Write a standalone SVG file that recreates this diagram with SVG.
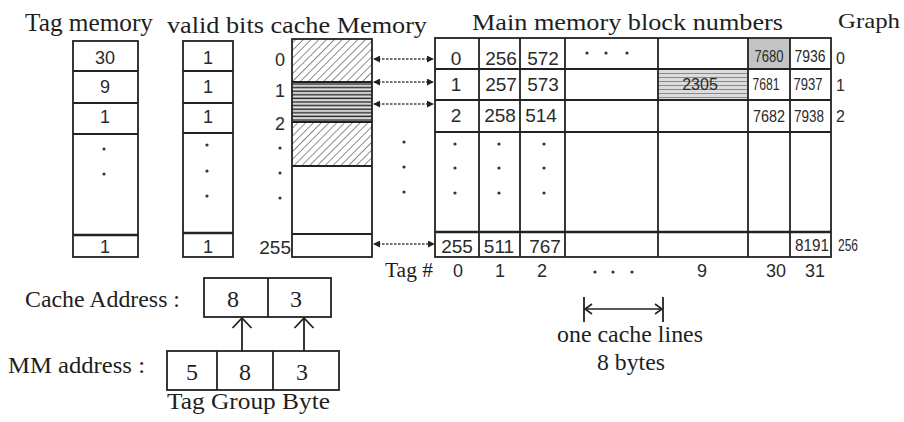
<svg xmlns="http://www.w3.org/2000/svg" width="904" height="422" viewBox="0 0 904 422">
<style>
.box{fill:none;stroke:#222;stroke-width:1.8}
.ln{stroke:#222;stroke-width:1.8}
.thick{stroke:#222;stroke-width:2.6}
.serif{font-family:"Liberation Serif","Times New Roman",serif;fill:#1e1e1e}
.sans{font-family:"Liberation Sans",Arial,sans-serif;fill:#2a2a2a}
.hd{font-size:24px}
.cell{font-size:19px;text-anchor:middle}
.lt{font-size:18px;text-anchor:middle}
.nar{font-size:16px;text-anchor:middle}
.rl{font-size:16px}
.dot{fill:#333}
.conn{stroke:#444;stroke-width:1.3;stroke-dasharray:2.5 1.5;fill:none;marker-start:url(#tri);marker-end:url(#tri)}
.arr{stroke:#222;stroke-width:1.8;fill:none}
</style>
<defs>
<pattern id="hatch" patternUnits="userSpaceOnUse" width="5.5" height="5.5" patternTransform="rotate(45)">
<line x1="0" y1="0" x2="0" y2="5.5" stroke="#333" stroke-width="1.1"/>
</pattern>
<pattern id="hlines" patternUnits="userSpaceOnUse" width="6" height="3.6">
<rect width="6" height="3.6" fill="#e4e4e4"/>
<line x1="0" y1="1.2" x2="6" y2="1.2" stroke="#2a2a2a" stroke-width="1.5"/>
</pattern>
<pattern id="glines" patternUnits="userSpaceOnUse" width="6" height="4">
<rect width="6" height="4" fill="#dcdcdc"/>
<line x1="0" y1="1.5" x2="6" y2="1.5" stroke="#8a8a8a" stroke-width="1"/>
</pattern>
<marker id="tri" viewBox="0 0 8 8" refX="7" refY="4" markerWidth="7" markerHeight="7" markerUnits="userSpaceOnUse" orient="auto-start-reverse">
<path d="M0,0 L8,4 L0,8 z" fill="#222"/>
</marker>
<marker id="chev" viewBox="0 0 11 20" refX="10" refY="10" markerWidth="11" markerHeight="20" markerUnits="userSpaceOnUse" orient="auto" overflow="visible">
<path d="M0,0.5 L10,10 L0,19.5" fill="none" stroke="#222" stroke-width="1.8"/>
</marker>
<marker id="chevs" viewBox="0 0 8 12" refX="7" refY="6" markerWidth="8" markerHeight="12" markerUnits="userSpaceOnUse" orient="auto-start-reverse" overflow="visible">
<path d="M0,1 L7,6 L0,11" fill="none" stroke="#222" stroke-width="1.6"/>
</marker>
</defs>
<rect width="904" height="422" fill="#ffffff"/>

<g id="headings">
<text class="serif" x="25" y="31" font-size="25" textLength="128" lengthAdjust="spacingAndGlyphs">Tag memory</text>
<text class="serif hd" x="167" y="33" textLength="260" lengthAdjust="spacingAndGlyphs">valid bits cache Memory</text>
<text class="serif hd" x="472" y="30" textLength="311" lengthAdjust="spacingAndGlyphs">Main memory block numbers</text>
<text class="serif" x="838" y="28" font-size="22" textLength="62" lengthAdjust="spacingAndGlyphs">Graph</text>
</g>

<g id="tag-memory">
<rect class="box" x="73" y="41" width="65" height="216"/>
<line class="ln" x1="73" y1="71" x2="138" y2="71"/>
<line class="ln" x1="73" y1="103" x2="138" y2="103"/>
<line class="ln" x1="73" y1="134" x2="138" y2="134"/>
<line class="thick" x1="73" y1="235" x2="138" y2="235"/>
<text class="sans lt" x="105" y="64">30</text>
<text class="sans lt" x="105" y="93">9</text>
<text class="sans lt" x="105" y="123">1</text>
<circle class="dot" cx="104" cy="149" r="1.6"/>
<circle class="dot" cx="104" cy="174" r="1.6"/>
<text class="sans lt" x="105" y="253">1</text>
</g>

<g id="valid-bits">
<rect class="box" x="183" y="41" width="50" height="216"/>
<line class="ln" x1="183" y1="71" x2="233" y2="71"/>
<line class="ln" x1="183" y1="103" x2="233" y2="103"/>
<line class="ln" x1="183" y1="133" x2="233" y2="133"/>
<line class="thick" x1="183" y1="233" x2="233" y2="233"/>
<text class="sans lt" x="208" y="64">1</text>
<text class="sans lt" x="208" y="93">1</text>
<text class="sans lt" x="208" y="123">1</text>
<circle class="dot" cx="207" cy="145" r="1.6"/>
<circle class="dot" cx="207" cy="171" r="1.6"/>
<circle class="dot" cx="207" cy="196" r="1.6"/>
<text class="sans lt" x="208" y="253">1</text>
</g>

<g id="cache-memory">
<rect x="292" y="39" width="80" height="43" fill="url(#hatch)"/>
<rect x="292" y="82" width="80" height="40" fill="url(#hlines)"/>
<rect x="292" y="122" width="80" height="44" fill="url(#hatch)"/>
<rect class="box" x="292" y="39" width="80" height="218"/>
<line class="ln" x1="292" y1="82" x2="372" y2="82"/>
<line class="ln" x1="292" y1="122" x2="372" y2="122"/>
<line class="ln" x1="292" y1="166" x2="372" y2="166"/>
<line class="ln" x1="292" y1="234" x2="372" y2="234"/>
<text class="sans lt" x="280" y="66">0</text>
<text class="sans lt" x="280" y="97">1</text>
<text class="sans lt" x="280" y="130">2</text>
<circle class="dot" cx="280" cy="148" r="1.6"/>
<circle class="dot" cx="280" cy="173" r="1.6"/>
<circle class="dot" cx="280" cy="198" r="1.6"/>
<text class="sans" x="291" y="254" font-size="19" text-anchor="end">255</text>
<circle class="dot" cx="404" cy="142" r="1.6"/>
<circle class="dot" cx="404" cy="167" r="1.6"/>
<circle class="dot" cx="404" cy="192" r="1.6"/>
</g>

<g id="main-memory">
<rect x="748" y="38" width="42" height="31" fill="#c4c4c4"/>
<rect x="658" y="69" width="90" height="31" fill="url(#glines)"/>
<rect class="box" x="435" y="38" width="396" height="219"/>
<line class="ln" x1="479" y1="38" x2="479" y2="257"/>
<line class="ln" x1="520" y1="38" x2="520" y2="257"/>
<line class="ln" x1="565" y1="38" x2="565" y2="257"/>
<line class="ln" x1="658" y1="38" x2="658" y2="257"/>
<line class="ln" x1="748" y1="38" x2="748" y2="257"/>
<line class="ln" x1="790" y1="38" x2="790" y2="257"/>
<line class="ln" x1="435" y1="69" x2="831" y2="69"/>
<line class="ln" x1="435" y1="100" x2="831" y2="100"/>
<line class="ln" x1="435" y1="132" x2="831" y2="132"/>
<line class="thick" x1="435" y1="232" x2="831" y2="232"/>
<text class="sans cell" x="456" y="65">0</text>
<text class="sans cell" x="501" y="65">256</text>
<text class="sans cell" x="543" y="65">572</text>
<circle class="dot" cx="587" cy="53" r="1.6"/>
<circle class="dot" cx="606" cy="53" r="1.6"/>
<circle class="dot" cx="627" cy="53" r="1.6"/>
<text class="sans nar" x="769" y="62" textLength="29" lengthAdjust="spacingAndGlyphs" fill="#555">7680</text>
<text class="sans nar" x="810" y="62" textLength="31" lengthAdjust="spacingAndGlyphs">7936</text>
<text class="sans cell" x="456" y="91">1</text>
<text class="sans cell" x="501" y="91">257</text>
<text class="sans cell" x="543" y="91">573</text>
<text class="sans nar" x="700" y="90" fill="#444">2305</text>
<text class="sans nar" x="766" y="90" textLength="27" lengthAdjust="spacingAndGlyphs">7681</text>
<text class="sans nar" x="808" y="90" textLength="29" lengthAdjust="spacingAndGlyphs">7937</text>
<text class="sans cell" x="456" y="122">2</text>
<text class="sans cell" x="500" y="122">258</text>
<text class="sans cell" x="541" y="122">514</text>
<text class="sans nar" x="769" y="122" textLength="32" lengthAdjust="spacingAndGlyphs">7682</text>
<text class="sans nar" x="809" y="122" textLength="30" lengthAdjust="spacingAndGlyphs">7938</text>
<circle class="dot" cx="455" cy="144" r="1.6"/>
<circle class="dot" cx="455" cy="168" r="1.6"/>
<circle class="dot" cx="455" cy="193" r="1.6"/>
<circle class="dot" cx="499" cy="144" r="1.6"/>
<circle class="dot" cx="499" cy="168" r="1.6"/>
<circle class="dot" cx="499" cy="193" r="1.6"/>
<circle class="dot" cx="544" cy="144" r="1.6"/>
<circle class="dot" cx="544" cy="168" r="1.6"/>
<circle class="dot" cx="544" cy="193" r="1.6"/>
<text class="sans cell" x="457" y="253">255</text>
<text class="sans cell" x="499" y="253">511</text>
<text class="sans cell" x="545" y="253">767</text>
<text class="sans nar" x="812" y="251" textLength="34" lengthAdjust="spacingAndGlyphs">8191</text>
<text class="sans rl" x="836" y="64">0</text>
<text class="sans rl" x="836" y="91">1</text>
<text class="sans rl" x="836" y="122">2</text>
<text class="sans rl" x="838" y="251" font-size="15" textLength="20" lengthAdjust="spacingAndGlyphs">256</text>
</g>

<g id="tag-numbers">
<text class="serif" x="385" y="277" font-size="20" textLength="48" lengthAdjust="spacingAndGlyphs">Tag #</text>
<text class="sans lt" x="458" y="277">0</text>
<text class="sans lt" x="500" y="277">1</text>
<text class="sans lt" x="542" y="277">2</text>
<circle class="dot" cx="595" cy="272" r="1.6"/>
<circle class="dot" cx="613" cy="272" r="1.6"/>
<circle class="dot" cx="632" cy="272" r="1.6"/>
<text class="sans lt" x="702" y="277">9</text>
<text class="sans lt" x="776" y="277">30</text>
<text class="sans lt" x="815" y="277">31</text>
</g>

<g id="cache-address">
<text class="serif" x="25" y="307" font-size="23" textLength="155" lengthAdjust="spacingAndGlyphs">Cache Address :</text>
<rect class="box" x="204" y="278" width="127" height="39"/>
<line class="ln" x1="268" y1="278" x2="268" y2="317"/>
<text class="serif" x="233" y="307" font-size="24" text-anchor="middle">8</text>
<text class="serif" x="296" y="307" font-size="24" text-anchor="middle">3</text>
</g>

<g id="mm-address">
<text class="serif" x="8" y="373" font-size="23" textLength="137" lengthAdjust="spacingAndGlyphs">MM address :</text>
<rect class="box" x="167" y="351" width="172" height="39"/>
<line class="ln" x1="217" y1="351" x2="217" y2="390"/>
<line class="ln" x1="273" y1="351" x2="273" y2="390"/>
<text class="serif" x="192" y="380" font-size="24" text-anchor="middle">5</text>
<text class="serif" x="245" y="380" font-size="24" text-anchor="middle">8</text>
<text class="serif" x="302" y="380" font-size="24" text-anchor="middle">3</text>
<text class="serif" x="167" y="409" font-size="23" textLength="163" lengthAdjust="spacingAndGlyphs">Tag Group Byte</text>
</g>

<g id="cache-line-span">
<line class="ln" x1="584" y1="297" x2="584" y2="322"/>
<line class="ln" x1="663" y1="297" x2="663" y2="322"/>
<line x1="585" y1="309" x2="662" y2="309" stroke="#222" stroke-width="1.5" marker-start="url(#chevs)" marker-end="url(#chevs)"/>
<text class="serif" x="557" y="342" font-size="23" textLength="146" lengthAdjust="spacingAndGlyphs">one cache lines</text>
<text class="serif" x="597" y="370" font-size="23" textLength="68" lengthAdjust="spacingAndGlyphs">8 bytes</text>
</g>

<g id="connectors">
<line class="conn" x1="374" y1="59" x2="433" y2="59"/>
<line class="conn" x1="374" y1="82" x2="433" y2="82"/>
<line class="conn" x1="374" y1="104" x2="433" y2="104"/>
<line class="conn" x1="374" y1="244" x2="434" y2="244"/>
<line class="arr" x1="242" y1="351" x2="242" y2="318" marker-end="url(#chev)"/>
<line class="arr" x1="304" y1="351" x2="304" y2="318" marker-end="url(#chev)"/>
</g>
</svg>
